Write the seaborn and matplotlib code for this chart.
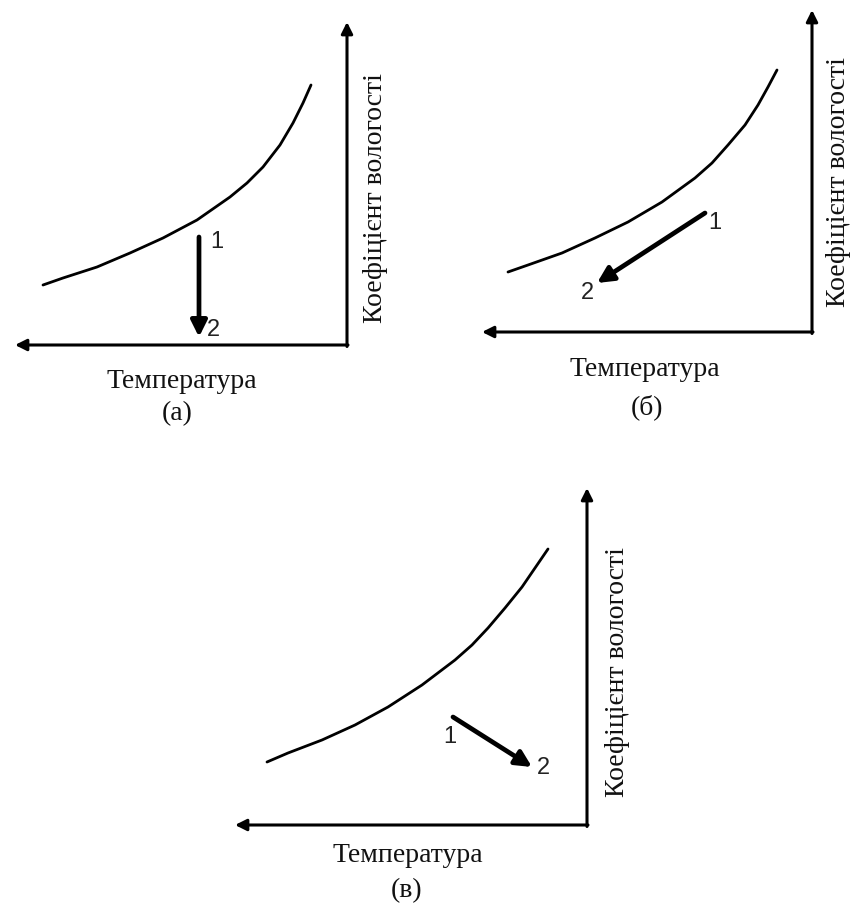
import matplotlib
matplotlib.use("Agg")
import matplotlib.pyplot as plt
import seaborn as sns
import pandas as pd

# ---------------- data (local units: T to the left of the corner, K up) -------------
x_label = "Температура"
y_label = "Коефіцієнт вологості"
panel_names = ["(a)", "(б)", "(в)"]

# panel (a)
curve_a_T = [304, 284, 250, 217, 184, 150, 117, 100, 84, 67, 54, 44, 36]
curve_a_K = [60, 67, 78, 92, 107, 125, 148, 162, 178, 200, 222, 242, 260]
arrow_a = [(148, 108), (148, 8)]          # start (1) -> end (2)
# panel (б)
curve_b_T = [304, 284, 250, 217, 184, 150, 117, 100, 84, 67, 54, 44, 35]
curve_b_K = [60, 67, 79, 94, 110, 130, 154, 169, 187, 207, 227, 245, 262]
arrow_b = [(107, 119), (215, 49)]
# panel (в)
curve_c_T = [320, 299, 265, 232, 199, 165, 132, 115, 99, 82, 65, 52, 39]
curve_c_K = [63, 72, 85, 100, 118, 140, 165, 180, 197, 217, 238, 257, 276]
arrow_c = [(134, 108), (55, 58)]

# point label offsets (relative to arrow start / end), in local units
lab1 = [(-18, -5), (-10, -10), (3, -20)]
lab2 = [(-14, 7), (10, -10), (-11, -1)]

# ---------------- layout (pixels) ----------------
W, H = 854, 908
corners = [(347, 345), (812, 332), (587, 825)]
extents = [(332, 323), (330, 322), (352, 337)]
xlab_pos = [(165, -36), (167, -37), (179, -31)]
name_pos = [(170, -69), (165, -75), (180, -66)]
ylab_pos = [(-29, 147), (-27, 150), (-31, 153)]

sns.set_theme(style="white")
plt.rcParams['font.family'] = ['Liberation Serif', 'DejaVu Serif']

fig = plt.figure(figsize=(W / 100, H / 100), dpi=100)
fig.patch.set_facecolor("white")

curves = [(curve_a_T, curve_a_K), (curve_b_T, curve_b_K), (curve_c_T, curve_c_K)]
arrows = [arrow_a, arrow_b, arrow_c]

for i in range(3):
    cx, cy = corners[i]
    tmax, kmax = extents[i]
    ax = fig.add_axes([(cx - tmax) / W, 1 - cy / H, tmax / W, kmax / H])
    ax.set_xlim(tmax, 0)
    ax.set_ylim(0, kmax)
    ax.axis("off")

    df = pd.DataFrame({"T": curves[i][0], "K": curves[i][1]})
    sns.lineplot(data=df, x="T", y="K", sort=False, estimator=None,
                 color="black", lw=2.0, ax=ax, solid_joinstyle="round")

    # axes as arrows
    ax.annotate("", xy=(tmax, 0), xytext=(-1, 0), annotation_clip=False,
                arrowprops=dict(arrowstyle="-|>", lw=2.2, color="black",
                                mutation_scale=17, shrinkA=0, shrinkB=0))
    ax.annotate("", xy=(0, kmax), xytext=(0, -1.5), annotation_clip=False,
                arrowprops=dict(arrowstyle="-|>", lw=2.2, color="black",
                                mutation_scale=17, shrinkA=0, shrinkB=0))

    # process arrow
    (s, e) = arrows[i]
    ax.annotate("", xy=e, xytext=s, annotation_clip=False,
                arrowprops=dict(arrowstyle="-|>", lw=3.4, color="black",
                                mutation_scale=24, shrinkA=0, shrinkB=0))
    ax.text(s[0] + lab1[i][0], s[1] + lab1[i][1], "1", fontsize=17,
            family=["Liberation Sans", "DejaVu Sans"], color="#222",
            ha="center", va="center", clip_on=False)
    ax.text(e[0] + lab2[i][0], e[1] + lab2[i][1], "2", fontsize=17,
            family=["Liberation Sans", "DejaVu Sans"], color="#222",
            ha="center", va="center", clip_on=False)

    ax.text(*xlab_pos[i], x_label, fontsize=20, color="#111",
            ha="center", va="center", clip_on=False)
    ax.text(*name_pos[i], panel_names[i], fontsize=20, color="#111",
            ha="center", va="center", clip_on=False)
    ax.text(*ylab_pos[i], y_label, fontsize=20, color="#111", rotation=90,
            ha="center", va="center", clip_on=False)

fig.savefig("out.png", dpi=100, facecolor="white")
